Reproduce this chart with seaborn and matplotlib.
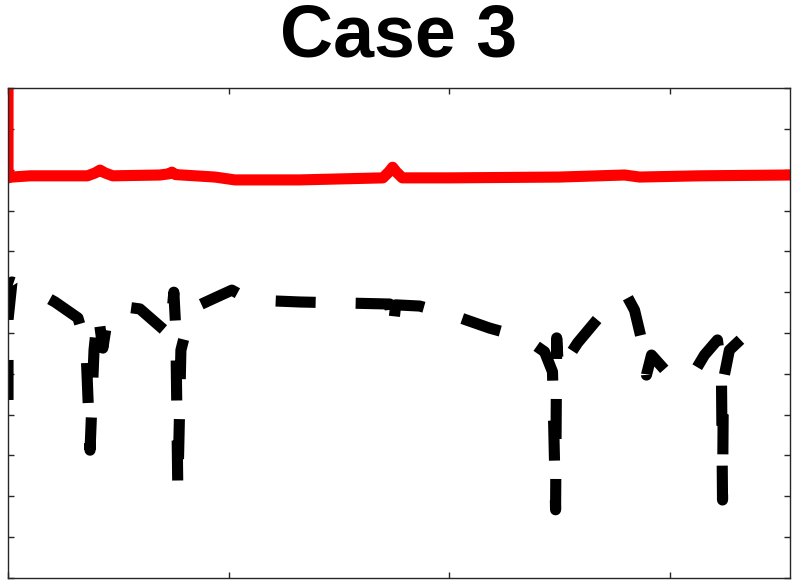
import matplotlib
matplotlib.use("Agg")
import matplotlib.pyplot as plt
import pandas as pd
import seaborn as sns

# red curve (solid)
red_x = [0.0, 0.0, 0.018, 0.100, 0.360, 0.395, 0.417, 0.440, 0.475, 0.689, 0.730,
         0.743, 0.760, 0.938, 1.029, 1.323, 1.700, 1.728, 1.744, 1.760, 1.788,
         2.003, 2.501, 2.796, 2.864, 3.135, 3.543]
red_y = [12.69, 9.80, 9.82, 9.85, 9.85, 9.92, 9.99, 9.92, 9.85, 9.87, 9.90,
         9.94, 9.88, 9.82, 9.75, 9.75, 9.80, 9.95, 10.06, 9.95, 9.80,
         9.80, 9.82, 9.87, 9.82, 9.85, 9.87]

# black curve (dashed, with spikes)
blk_x = [0.0, 0.0, 0.018, 0.100, 0.213, 0.317, 0.353, 0.372, 0.390, 0.408, 0.430,
         0.453, 0.530, 0.598, 0.666, 0.734, 0.752, 0.761, 0.770, 0.784, 0.807,
         0.870, 0.938, 1.015, 1.097, 1.323, 1.731, 1.744, 1.758, 1.867, 2.025,
         2.184, 2.343, 2.433, 2.469, 2.483, 2.488, 2.497, 2.583, 2.696, 2.773,
         2.809, 2.841, 2.886, 2.895, 2.918, 2.999, 3.104, 3.158, 3.217, 3.235,
         3.240, 3.244, 3.271, 3.330]
blk_y = [4.36, 6.32, 7.25, 7.10, 6.76, 6.37, 5.71, 3.13, 5.58, 6.51, 5.63,
         6.42, 6.64, 6.59, 6.27, 5.95, 7.00, 6.07, 2.16, 5.58, 6.07,
         6.69, 6.86, 7.05, 6.81, 6.76, 6.71, 6.00, 6.69, 6.66, 6.42,
         6.12, 5.88, 5.54, 5.05, 1.67, 5.88, 5.05, 5.76, 6.49, 6.86,
         6.88, 6.56, 5.54, 4.97, 5.46, 4.97, 4.97, 5.46, 5.83, 5.05,
         1.91, 4.85, 5.58, 5.88]

x_ticks = [0, 1, 2, 3]
y_ticks = list(range(13))

sns.set_style("ticks")
plt.rcParams.update({
    "font.family": ["Liberation Sans", "DejaVu Sans"],
    "text.color": "black",
    "xtick.direction": "in", "ytick.direction": "in",
    "xtick.top": True, "ytick.right": True,
    "axes.edgecolor": "#262626", "axes.linewidth": 1.0,
})

df_red = pd.DataFrame({"x": red_x, "y": red_y})
df_blk = pd.DataFrame({"x": blk_x, "y": blk_y})

fig = plt.figure(figsize=(8.01, 5.85), dpi=100)
ax = fig.add_axes([0.010, 0.012, 0.976, 0.8375])

sns.lineplot(data=df_red, x="x", y="y", sort=False, estimator=None,
             color="red", lw=8, ax=ax)
sns.lineplot(data=df_blk, x="x", y="y", sort=False, estimator=None,
             color="black", lw=8, ls=(0, (3.6, 3.6)), ax=ax)
for ln in ax.lines:
    ln.set_dash_capstyle("butt")
    ln.set_solid_joinstyle("round")
    ln.set_solid_capstyle("round")

ax.set_xlim(0, 3.545)
ax.set_ylim(0, 12)
ax.set_xticks(x_ticks)
ax.set_yticks(y_ticks)
ax.set_xticklabels([])
ax.set_yticklabels([])
ax.tick_params(length=4, width=1, colors="#262626")
ax.set_xlabel("")
ax.set_ylabel("")
ax.set_title("Case 3", fontsize=53, fontweight="bold", color="black", pad=23)

fig.savefig("out.png", dpi=100)
